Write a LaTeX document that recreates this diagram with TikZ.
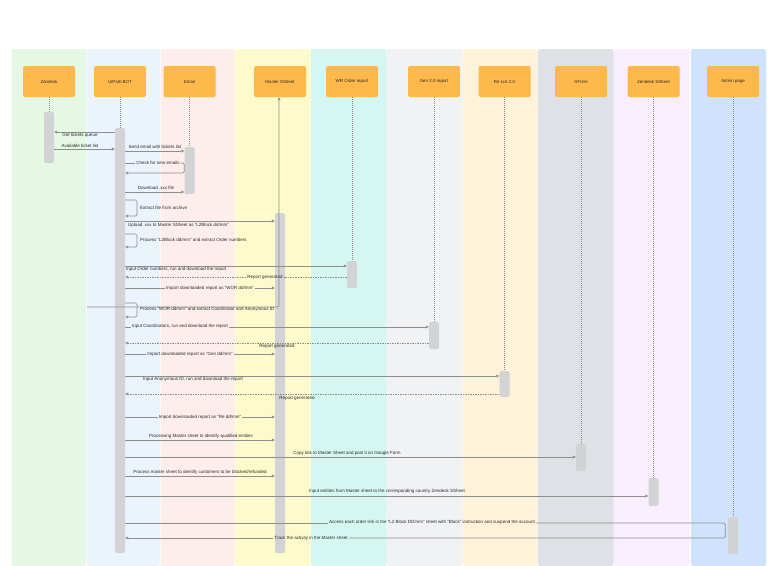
\documentclass[tikz,border=0pt]{standalone}
\usepackage{fontspec}
\setmainfont{Liberation Sans}
\usetikzlibrary{arrows.meta}
\definecolor{laneA}{HTML}{E4F8E4}
\definecolor{laneB}{HTML}{EBF3FD}
\definecolor{laneC}{HTML}{FDEEEC}
\definecolor{laneD}{HTML}{FDFBCC}
\definecolor{laneE}{HTML}{D6F7F1}
\definecolor{laneF}{HTML}{F1F2F4}
\definecolor{laneG}{HTML}{FEF2D9}
\definecolor{laneH}{HTML}{DEE1E5}
\definecolor{laneI}{HTML}{F8EEFD}
\definecolor{laneJ}{HTML}{D0E3FD}
\definecolor{headc}{HTML}{FFB94B}
\definecolor{barc}{HTML}{D2D3D5}
\definecolor{linec}{HTML}{8E8E8E}
\definecolor{lifec}{HTML}{8A8A8A}
\definecolor{txt}{HTML}{2A2A2A}
\tikzset{
  head/.style={fill=headc, rounded corners=1.5pt, minimum width=52pt, minimum height=31pt, inner sep=0pt, font=\fontsize{4.4}{5}\selectfont, text=txt},
  bar/.style={fill=barc, rounded corners=2pt, minimum width=10pt, inner sep=0pt},
  life/.style={draw=lifec, line width=0.6pt, dash pattern=on 1pt off 1pt},
  seg/.style={draw=linec, line width=0.7pt, rounded corners=1.5pt},
  msg/.style={seg, -{Triangle[open,length=3pt,width=3pt]}},
  ret/.style={msg, dash pattern=on 1.5pt off 1pt},
  retseg/.style={seg, dash pattern=on 1.5pt off 1pt},
  lbl/.style={font=\fontsize{4.5}{5}\selectfont, text=txt, inner sep=1pt}
}
\begin{document}
\begin{tikzpicture}[x=1pt,y=-1pt]
\useasboundingbox (0,0) rectangle (768,565);
\fill[white] (0,0) rectangle (768,565);
% lanes
\fill[laneA, rounded corners=2pt] (11.5,49) rectangle (86,566);
\fill[laneB, rounded corners=2pt] (86.5,49) rectangle (160,566);
\fill[laneC, rounded corners=2pt] (160.5,49) rectangle (235,566);
\fill[laneD, rounded corners=2pt] (235.5,49) rectangle (310.5,566);
\fill[laneE, rounded corners=2pt] (311,49) rectangle (386.5,566);
\fill[laneF, rounded corners=2pt] (387,49) rectangle (462.5,566);
\fill[laneG, rounded corners=2pt] (463,49) rectangle (537.5,566);
\fill[laneH, rounded corners=2pt] (538,49) rectangle (613.5,566);
\fill[laneI, rounded corners=2pt] (614,49) rectangle (689.5,566);
\fill[laneJ, rounded corners=2pt] (691,49) rectangle (766,566);
% headers
\node[head] (hZ) at (49,81.5) {Zendesk};
\node[head] (hU) at (120,81.5) {UiPath BOT};
\node[head] (hE) at (189.5,81.5) {Email};
\node[head] (hM) at (280,81.5) {Master SSheet};
\node[head] (hW) at (352,81.5) {WR Order report};
\node[head] (hG) at (434,81.5) {Gen 2.0 report};
\node[head] (hR) at (504.5,81.5) {Re List 2.0};
\node[head] (hF) at (581,81.5) {GForm};
\node[head] (hS) at (653.5,81.5) {Zendesk SSheet};
\node[head] (hA) at (733,81.5) {Admin page};
% lifelines (drawn before the bars)
\path (49,137.5) coordinate (cZ) (120,340.5) coordinate (cU) (189.5,170.5) coordinate (cE)
      (280,383) coordinate (cM) (352,274.5) coordinate (cW) (434,335.5) coordinate (cG)
      (504.5,384) coordinate (cR) (581,457.5) coordinate (cF) (653.5,492) coordinate (cS)
      (733,535.5) coordinate (cA);
% activation bars
\node[bar, minimum height=51pt] (bZ) at (cZ) {};
\node[bar, minimum height=425pt] (bU) at (cU) {};
\node[bar, minimum height=47pt] (bE) at (cE) {};
\node[bar, minimum height=340pt] (bM) at (cM) {};
\node[bar, minimum height=27pt] (bW) at (cW) {};
\node[bar, minimum height=27pt] (bG) at (cG) {};
\node[bar, minimum height=26pt] (bR) at (cR) {};
\node[bar, minimum height=27pt] (bF) at (cF) {};
\node[bar, minimum height=28pt] (bS) at (cS) {};
\node[bar, minimum height=37pt] (bA) at (cA) {};
\draw[life] (hZ.south) -- (bZ.north);
\draw[life] (hU.south) -- (bU.north);
\draw[life] (hE.south) -- (bE.north);
\draw[life] (hW.south) -- (bW.north);
\draw[life] (hG.south) -- (bG.north);
\draw[life] (hR.south) -- (bR.north);
\draw[life] (hF.south) -- (bF.north);
\draw[life] (hS.south) -- (bS.north);
\draw[life] (hA.south) -- (bA.north);
% master line
\coordinate (mst) at (87,307);
\draw[msg] (mst) -- ([xshift=-1pt]hM.south |- mst) -- ([xshift=-1pt]hM.south);
% messages
\draw[msg] (bU.west |- 0,132) -- (bZ.east |- 0,132);
\node[lbl] (t1) at (80,135.5) {Get tickets queue};
\draw[msg] (bZ.east |- 0,149) -- (bU.west |- 0,149);
\node[lbl] (t2) at (80,145.5) {Available ticket list};
\draw[msg] (bU.east |- 0,151) -- (bE.west |- 0,151);
\node[lbl] (t3) at (155,146.5) {Send email with tickets list};
\node[lbl] (t4) at (158,163) {Check for new emails};
\draw[seg] (bU.east |- 0,163) -- (t4.west);
\draw[msg] (t4.east) -- (bE.west |- 0,163) -- (bE.west |- 0,173) -- (bU.east |- 0,173);
\draw[msg] (bU.east |- 0,192) -- (bE.west |- 0,192);
\node[lbl] (t5) at (156,188) {Download .xxx file};
\draw[msg] (bU.east |- 0,200) -- (137,200) -- (137,216) -- (bU.east |- 0,216);
\node[lbl, anchor=west] (t6) at (139,208) {Extract file from archive};
\draw[msg] (bU.east |- 0,221) -- (bM.west |- 0,221);
\node[lbl, anchor=west] (t7) at (127,225.5) {Upload .xxx to Master SSheet as "L2Block dd/mm"};
\draw[msg] (bU.east |- 0,234) -- (137,234) -- (137,247) -- (bU.east |- 0,247);
\node[lbl, anchor=west] (t8) at (139,240) {Process "L2Block dd/mm" and extract Order numbers};
\draw[msg] (bU.east |- 0,266) -- (bW.west |- 0,266);
\node[lbl, anchor=west] (t9) at (125,269.5) {Input Order numbers, run and download the report};
\node[lbl] (t10) at (265,277) {Report generated};
\draw[retseg] (bW.west |- 0,277) -- (t10.east);
\draw[ret] (t10.west) -- (bU.east |- 0,277);
\node[lbl] (t11) at (210,288) {Import downloaded report  as "WOR dd/mm"};
\draw[seg] (bU.east |- 0,288) -- (t11.west);
\draw[msg] (t11.east) -- (bM.west |- 0,288);
\draw[msg] (bU.east |- 0,303) -- (137,303) -- (137,317) -- (bU.east |- 0,317);
\node[lbl, anchor=west] (t12) at (139,309.5) {Process "WOR dd/mm" and extract Coordinator and Anonymous ID};
\node[lbl] (t13) at (180,326.5) {Input Coordinators, run and download the report};
\draw[seg] (bU.east |- 0,327) -- (t13.west |- 0,327);
\draw[msg] (t13.east |- 0,327) -- (bG.west |- 0,327);
\draw[ret] (bG.west |- 0,343) -- (bU.east |- 0,343);
\node[lbl] (t14) at (277,346.5) {Report generated};
\node[lbl] (t15) at (190,354) {Import downloaded report  as "Gen dd/mm"};
\draw[seg] (bU.east |- 0,354) -- (t15.west);
\draw[msg] (t15.east) -- (bM.west |- 0,354);
\draw[msg] (bU.east |- 0,376) -- (bR.west |- 0,376);
\node[lbl] (t16) at (193,379.5) {Input Anonymous ID, run and download the report};
\draw[ret] (bR.west |- 0,394) -- (bU.east |- 0,394);
\node[lbl] (t17) at (297,398) {Report generated};
\node[lbl] (t18) at (200,417) {Import downloaded report  as "Re dd/mm"};
\draw[seg] (bU.east |- 0,417) -- (t18.west);
\draw[msg] (t18.east) -- (bM.west |- 0,417);
\draw[msg] (bU.east |- 0,440) -- (bM.west |- 0,440);
\node[lbl] (t19) at (201,436) {Processing Master sheet to identify qualified entities};
\draw[msg] (bU.east |- 0,457) -- (bF.west |- 0,457);
\node[lbl] (t20) at (347,453) {Copy link to Master Sheet and post it on Google Form};
\draw[msg] (bU.east |- 0,476) -- (bM.west |- 0,476);
\node[lbl] (t21) at (200,472) {Process master sheet to identify customers to be blocked/refunded};
\draw[msg] (bU.east |- 0,496) -- (bS.west |- 0,496);
\node[lbl] (t22) at (387,491.5) {Input entities from Master sheet to the corresponding country Zendesk SSheet};
\node[lbl] (t23) at (432,522.5) {Access each order link in the "L2 Block DD/mm" sheet with  "Block" instruction and suspend the account};
\node[lbl] (t24) at (311,538) {Track the activity in the Master sheet};
\coordinate (turn) at ([xshift=-2.5pt]bA.west);
\draw[seg] (bU.east |- 0,523) -- (t23.west |- 0,523);
\draw[seg] (t23.east |- 0,523) -- (turn |- 0,523) -- (turn |- 0,538) -- (t24.east |- 0,538);
\draw[msg] (t24.west |- 0,538) -- (bU.east |- 0,538);
\end{tikzpicture}
\end{document}
